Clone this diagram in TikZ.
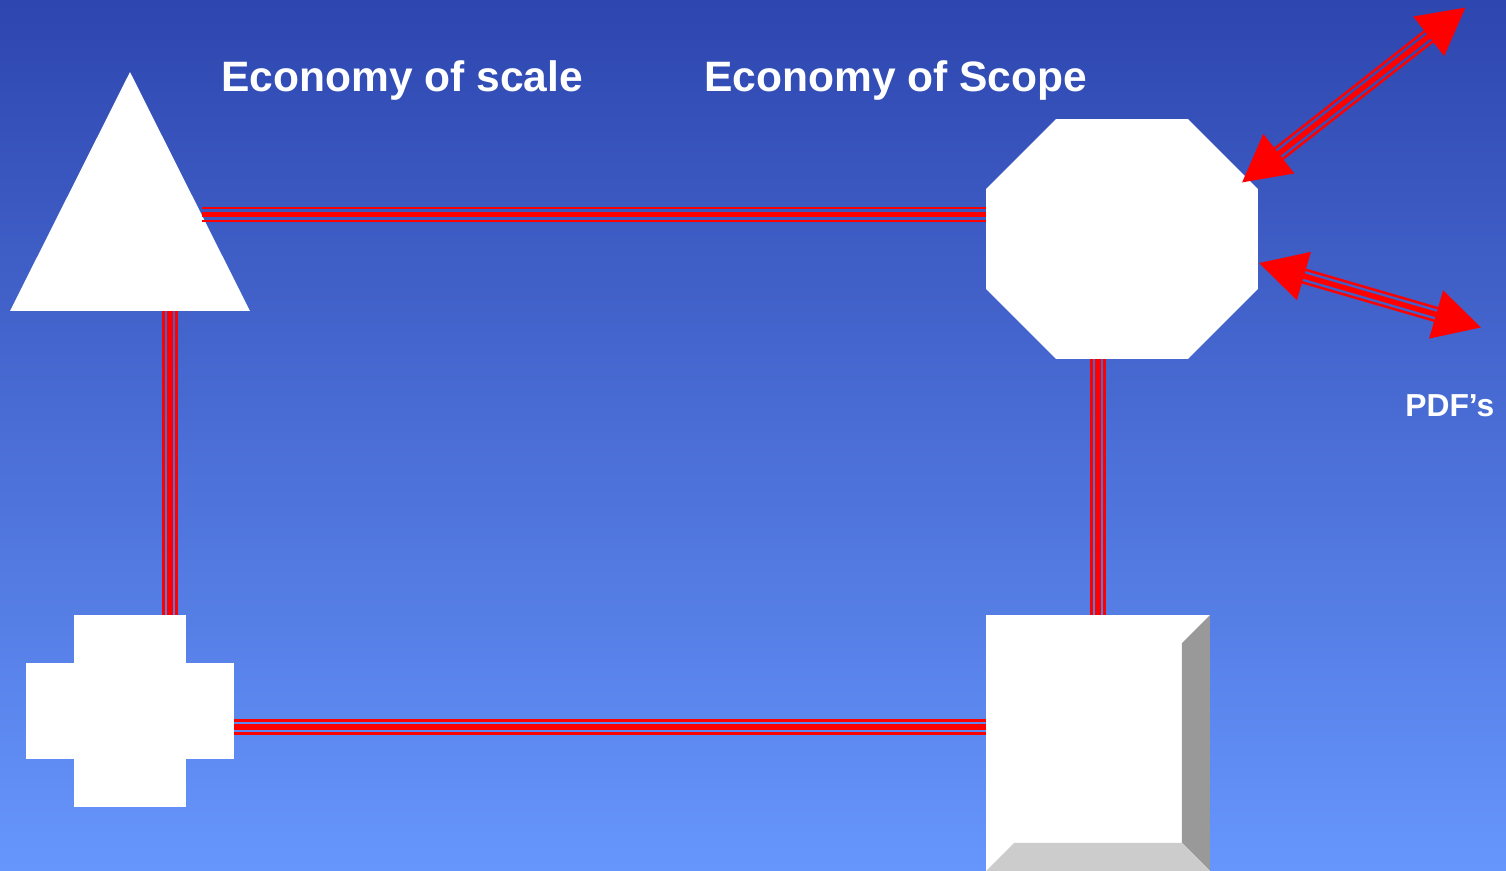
\documentclass[tikz,border=0pt]{standalone}
\usepackage{fontspec}
\setmainfont{Liberation Sans}
\usetikzlibrary{calc,arrows.meta}

\definecolor{bgtop}{RGB}{46,70,175}
\definecolor{bgbot}{RGB}{102,150,252}
\definecolor{bevdark}{RGB}{153,153,153}
\definecolor{bevlight}{RGB}{204,204,204}
\definecolor{linkred}{RGB}{255,0,0}

\tikzset{
  frame/.style={inner sep=0pt, outer sep=0pt, draw=none},
  solid white/.style={fill=white, draw=none},
  wirecore/.style={draw=linkred, line width=3.1pt, line cap=butt},
  wireedge/.style={draw=linkred, line width=1.4pt, line cap=butt},
  titletext/.style={text=white, inner sep=0pt, anchor=base west,
    font=\fontsize{24.2pt}{28pt}\selectfont\bfseries},
  notetext/.style={text=white, inner sep=0pt, anchor=base west,
    font=\fontsize{18.1pt}{21pt}\selectfont\bfseries},
}

% three parallel red strands between two points
\newcommand\triplelink[2]{%
  \draw[wirecore] (#1) -- (#2);
  \draw[wireedge] ($(#1)!3.7pt!90:(#2)$) -- ($(#2)!3.7pt!-90:(#1)$);
  \draw[wireedge] ($(#1)!3.7pt!-90:(#2)$) -- ($(#2)!3.7pt!90:(#1)$);
}
% the same, with a triangular head at each end
\newcommand\triplearrow[2]{%
  \draw[wirecore, {Triangle[length=26.6pt,width=27.8pt]}-{Triangle[length=26.6pt,width=27.8pt]}] (#1) -- (#2);
  \draw[wireedge, shorten <=24pt, shorten >=24pt] ($(#1)!3.7pt!90:(#2)$) -- ($(#2)!3.7pt!-90:(#1)$);
  \draw[wireedge, shorten <=24pt, shorten >=24pt] ($(#1)!3.7pt!-90:(#2)$) -- ($(#2)!3.7pt!90:(#1)$);
}

\begin{document}
\begin{tikzpicture}[x=0.02cm,y=-0.02cm]
\useasboundingbox (0,0) rectangle (1506,871);
\shade[top color=bgtop, bottom color=bgbot] (0,0) rectangle (1506,871);

% outline frames of the four shapes
\node[frame, minimum width=4.8cm,  minimum height=4.78cm] (scale) at (130,191.5) {};
\node[frame, minimum width=5.44cm, minimum height=4.8cm]  (scope) at (1122,239) {};
\node[frame, minimum width=4.16cm, minimum height=3.84cm] (cross) at (130,711) {};
\node[frame, minimum width=4.48cm, minimum height=5.12cm] (cube)  at (1098,743) {};

% triangle
\fill[solid white] (scale.north) -- (scale.south east) -- (scale.south west) -- cycle;

% octagon
\fill[solid white]
  ($(scope.north west)+(70,0)$) -- ($(scope.north east)+(-70,0)$)
  -- ($(scope.north east)+(0,70)$) -- ($(scope.south east)+(0,-70)$)
  -- ($(scope.south east)+(-70,0)$) -- ($(scope.south west)+(70,0)$)
  -- ($(scope.south west)+(0,-70)$) -- ($(scope.north west)+(0,70)$) -- cycle;

% cross
\fill[solid white] ($(cross.north west)+(48,0)$) rectangle ($(cross.south east)+(-48,0)$);
\fill[solid white] ($(cross.north west)+(0,48)$) rectangle ($(cross.south east)+(0,-48)$);

% bevelled box
\fill[solid white] (cube.north west) rectangle (cube.south east);
\fill[bevdark] (cube.north east) -- ($(cube.north east)+(-28,28)$)
  -- ($(cube.south east)+(-28,-28)$) -- (cube.south east) -- cycle;
\fill[bevlight] (cube.south west) -- ($(cube.south west)+(28,-28)$)
  -- ($(cube.south east)+(-28,-28)$) -- (cube.south east) -- cycle;

% link end points
\coordinate (scale-e) at (202,214.5);
\coordinate (scope-w) at (scope.west |- scale-e);
\coordinate (scale-s) at (170,311);
\coordinate (cross-n) at (scale-s |- cross.north);
\coordinate (cross-e) at (cross.east |- 0,727);
\coordinate (cube-w)  at (cube.west |- cross-e);
\coordinate (scope-s) at (1098,359);
\coordinate (cube-n)  at (scope-s |- cube.north);

\triplelink{scale-e}{scope-w}
\triplelink{scale-s}{cross-n}
\triplelink{cross-e}{cube-w}
\triplelink{scope-s}{cube-n}

% outgoing arrows
\coordinate (up-a)  at (1242,182.5);
\coordinate (up-b)  at (1465.5,7.5);
\coordinate (pdf-a) at (1259,263);
\coordinate (pdf-b) at (1481,327.5);
\triplearrow{up-a}{up-b}
\triplearrow{pdf-a}{pdf-b}

% labels
\node[titletext] (t-scale) at (221,92) {Economy of scale};
\node[titletext] (t-scope) at (704,92) {Economy of Scope};
\node[notetext]  (t-pdf)   at (1405,416) {PDF’s};
\end{tikzpicture}
\end{document}
